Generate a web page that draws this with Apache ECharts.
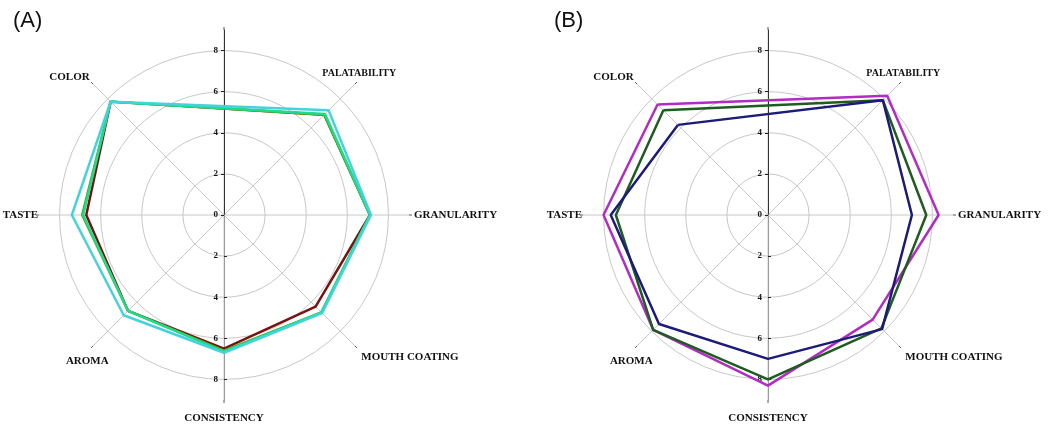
<!DOCTYPE html>
<html>
<head>
<meta charset="utf-8">
<script src="https://cdn.jsdelivr.net/npm/echarts@6/dist/echarts.min.js"></script>
<style>
  html, body { margin: 0; padding: 0; background: #fff; }
  #main { width: 1049px; height: 430px; }
</style>
</head>
<body>
<div id="main"></div>
<script>
// attributes, going round counter-clockwise from COLOR (the top slot stays empty)
var attributes = ['COLOR', 'TASTE', 'AROMA', 'CONSISTENCY', 'MOUTH COATING', 'GRANULARITY', 'PALATABILITY'];
var ticksUp = [0, 2, 4, 6, 8];
var ticksDown = [2, 4, 6, 8];

// panel (A)
var namesA = ['A1', 'A2', 'A3', 'A4'];
var colorsA = ['#7a1212', '#3fae25', '#1fdc8c', '#45d2dc'];
var a1 = [7.8, 6.7, 6.6, 6.5, 6.3, 7.1, 6.9];
var a2 = [7.8, 6.9, 6.6, 6.6, 6.7, 7.1, 6.9];
var a3 = [7.8, 6.85, 6.6, 6.65, 6.7, 7.1, 6.95];
var a4 = [7.8, 7.4, 6.9, 6.7, 6.75, 7.15, 7.2];

// panel (B)
var namesB = ['B1', 'B2', 'B3'];
var colorsB = ['#b02cc2', '#1f5c1f', '#1c1c78'];
var b1 = [7.6, 8.0, 7.9, 8.3, 7.2, 8.3, 8.2];
var b2 = [7.2, 7.4, 7.9, 8.0, 7.8, 7.7, 7.9];
var b3 = [6.2, 7.65, 7.5, 7.0, 7.85, 7.0, 7.9];

var R = 185;         // radius for value 9
var cy = 215;
var centers = [224, 768];
var serif = 'Liberation Serif';
var step = 360 / (attributes.length + 1);   // 8 slots, top one unused

// nudges so the labels sit where the original puts them
var labelStyle = {
  'COLOR': { padding: [0, 0, -2, 0] },
  'TASTE': { padding: [0, -4, 0, 0] },
  'AROMA': { padding: [6, -19, 0, 0] },
  'CONSISTENCY': { padding: [8, 0, 0, 0] },
  'MOUTH COATING': { padding: [2, 0, 0, 3] },
  'PALATABILITY': { padding: [0, 0, 2, -36], fontSize: 10 }
};
var angleCats = [{ value: '' }].concat(attributes.map(function (a) {
  return labelStyle[a] ? { value: a, textStyle: labelStyle[a] } : { value: a };
}));

function toPoints(vals) {
  var pts = vals.map(function (v, i) { return [v, (i + 1) * step]; });
  pts.push([vals[0], step]);   // close the polygon
  return pts;
}

var polar = [], angleAxis = [], radiusAxis = [], series = [];
var dataPolar = [];

centers.forEach(function (cx, p) {
  var base = polar.length;
  // spokes, attribute labels, upward axis
  polar.push({ center: [cx, cy], radius: R });
  angleAxis.push({
    polarIndex: base, type: 'category', data: angleCats, boundaryGap: false,
    startAngle: 90, clockwise: false,
    axisLine: { show: false },
    axisTick: { show: true, length: 3, lineStyle: { color: '#555' } },
    axisLabel: { margin: 5, color: '#111', fontFamily: serif, fontWeight: 'bold', fontSize: 11 },
    splitLine: { show: true, lineStyle: { color: '#c8c8c8', width: 1 } }
  });
  radiusAxis.push({
    polarIndex: base, type: 'value', min: 0, max: 9,
    axisLine: { show: true, lineStyle: { color: '#333', width: 1 } },
    axisTick: { show: true, length: 3, customValues: ticksUp, lineStyle: { color: '#222' } },
    axisLabel: { show: true, customValues: ticksUp, margin: 6, color: '#111', fontFamily: serif, fontWeight: 'bold', fontSize: 9 },
    splitLine: { show: false }
  });
  // circles at 2,4,6,8
  polar.push({ center: [cx, cy], radius: R * 8 / 9 });
  angleAxis.push({ polarIndex: base + 1, show: false, startAngle: 90 });
  radiusAxis.push({
    polarIndex: base + 1, type: 'value', min: 0, max: 8, interval: 2,
    axisLine: { show: false }, axisTick: { show: false }, axisLabel: { show: false },
    splitLine: { show: true, lineStyle: { color: '#c8c8c8', width: 1 } }
  });
  // downward axis
  polar.push({ center: [cx, cy], radius: R });
  angleAxis.push({ polarIndex: base + 2, show: false, startAngle: 270 });
  radiusAxis.push({
    polarIndex: base + 2, type: 'value', min: 0, max: 9,
    axisLine: { show: true, lineStyle: { color: '#9a9a9a', width: 1 } },
    axisTick: { show: true, length: 3, customValues: ticksDown, lineStyle: { color: '#222' } },
    axisLabel: { show: true, customValues: ticksDown, margin: -6, align: 'right', color: '#111', fontFamily: serif, fontWeight: 'bold', fontSize: 9 },
    splitLine: { show: false }
  });
  // full-circle polar that carries the profiles
  polar.push({ center: [cx, cy], radius: R });
  angleAxis.push({ polarIndex: base + 3, show: false, type: 'value', min: 0, max: 360, startAngle: 90, clockwise: false });
  radiusAxis.push({ polarIndex: base + 3, show: false, type: 'value', min: 0, max: 9 });
  dataPolar.push(base + 3);
});

function addSeries(names, colors, sets, polarIndex) {
  sets.forEach(function (vals, i) {
    series.push({
      name: names[i], type: 'line', coordinateSystem: 'polar', polarIndex: polarIndex,
      data: toPoints(vals), symbol: 'none', smooth: false, clip: false,
      lineStyle: { color: colors[i], width: 2.5 }, z: 3 + i
    });
  });
}
addSeries(namesA, colorsA, [a1, a2, a3, a4], dataPolar[0]);
addSeries(namesB, colorsB, [b1, b2, b3], dataPolar[1]);

var chart = echarts.init(document.getElementById('main'));
chart.setOption({
  backgroundColor: '#fff',
  animation: false,
  title: [
    { text: '(A)', left: 8, top: 5, textStyle: { fontFamily: 'Liberation Sans', fontWeight: 'normal', fontSize: 22, color: '#111' } },
    { text: '(B)', left: 549, top: 5, textStyle: { fontFamily: 'Liberation Sans', fontWeight: 'normal', fontSize: 22, color: '#111' } }
  ],
  polar: polar,
  angleAxis: angleAxis,
  radiusAxis: radiusAxis,
  series: series
});
</script>
</body>
</html>
